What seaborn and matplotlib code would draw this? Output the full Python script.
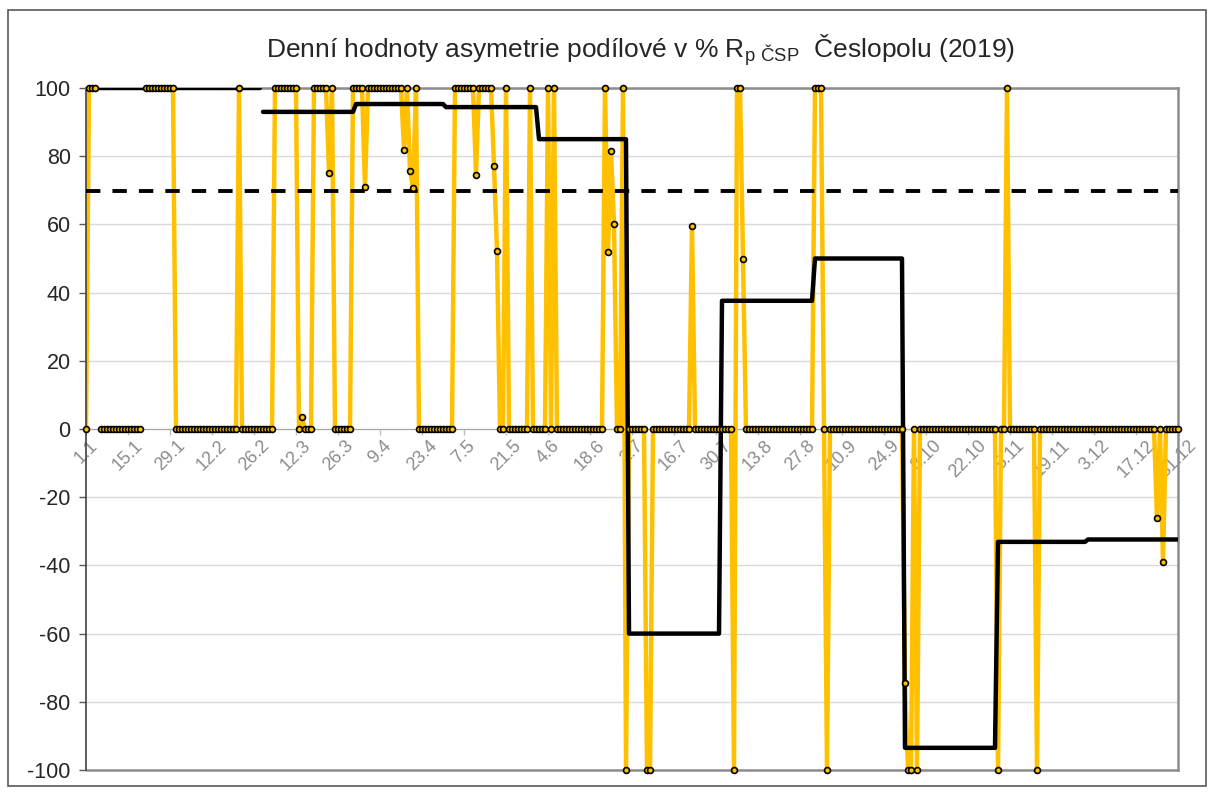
import numpy as np
import pandas as pd
import matplotlib.pyplot as plt
from matplotlib.patches import Rectangle
import seaborn as sns

nan = np.nan

# daily values (value, number of days)
yellow_runs = [
    (0, 1), (100, 3), (nan, 1), (0, 14), (nan, 1), (100, 10), (0, 21), (100, 1),
    (0, 11), (100, 8), (0, 1), (3.6, 1), (0, 3), (100, 5), (75.2, 1), (100, 1),
    (0, 6), (100, 4), (71.0, 1), (100, 12), (81.8, 1), (100, 1), (75.7, 1), (70.8, 1),
    (100, 1), (0, 12), (100, 7), (74.6, 1), (100, 5), (77.1, 1), (52.2, 1), (0, 2),
    (100, 1), (0, 7), (100, 1), (0, 5), (100, 1), (0, 1), (100, 1), (0, 16),
    (100, 1), (51.8, 1), (81.6, 1), (60.1, 1), (0, 2), (100, 1), (-100, 1), (0, 6),
    (-100, 2), (0, 13), (59.6, 1), (0, 13), (-100, 1), (100, 2), (50, 1), (0, 23),
    (100, 3), (0, 1), (-100, 1), (0, 25), (-74.4, 1), (-100, 2), (0, 1), (-100, 1),
    (0, 26), (-100, 1), (0, 2), (100, 1), (0, 9), (-100, 1), (0, 39), (-26.1, 1),
    (0, 1), (-39.0, 1), (0, 5),
]

# monthly values (black line), break between Feb and Mar
month_days = [31, 28, 31, 30, 31, 30, 31, 31, 30, 31, 30, 31]
month_values = [100, 100, 93.0, 95.3, 94.4, 85.0, -60.0, 37.6, 50.0, -93.5, -33.1, -32.4]
month_segment = [0, 0, 1, 1, 1, 1, 1, 1, 1, 1, 1, 1]

annual_value = 69.7

tick_days = list(range(1, 366, 14))
tick_labels = ['1.1', '15.1', '29.1', '12.2', '26.2', '12.3', '26.3', '9.4', '23.4',
               '7.5', '21.5', '4.6', '18.6', '2.7', '16.7', '30.7', '13.8', '27.8',
               '10.9', '24.9', '8.10', '22.10', '5.11', '19.11', '3.12', '17.12', '31.12']

# build daily frames
vals = np.concatenate([np.full(n, v, dtype=float) for v, n in yellow_runs])
days = np.arange(1, len(vals) + 1)
daily = pd.DataFrame({'day': days, 'value': vals})
daily['seg'] = daily['value'].isna().cumsum()
daily_ok = daily.dropna()

monthly = pd.DataFrame({
    'day': np.arange(1, 366),
    'value': np.repeat(month_values, month_days),
    'seg': np.repeat(month_segment, month_days),
})
annual = pd.DataFrame({'day': [1, 365], 'value': [annual_value, annual_value]})

sns.set_style('white')
plt.rcParams['font.family'] = ['Liberation Sans', 'DejaVu Sans']
plt.rcParams['mathtext.fontset'] = 'custom'
plt.rcParams['mathtext.rm'] = 'Liberation Sans'
plt.rcParams['axes.unicode_minus'] = False

fig = plt.figure(figsize=(12.14, 7.92), dpi=100)
ax = fig.add_axes([86 / 1214, 22 / 792, 1092 / 1214, 682 / 792])

gold = '#FFC000'
sns.lineplot(data=daily_ok, x='day', y='value', units='seg', estimator=None,
             color=gold, linewidth=3.2, ax=ax, zorder=2)
sns.lineplot(data=monthly, x='day', y='value', units='seg', estimator=None,
             color='black', linewidth=3.2, ax=ax, zorder=3)
sns.lineplot(data=annual, x='day', y='value', color='black', linewidth=2.8,
             ax=ax, zorder=3)
ax.lines[-1].set_dashes((3.7, 3.1))
sns.scatterplot(data=daily_ok, x='day', y='value', color=gold, edgecolor='black',
                linewidth=1.2, s=18, ax=ax, zorder=4, clip_on=False)

ax.set_xlim(1, 365)
ax.set_ylim(-100, 100)
ax.set_yticks(range(-100, 101, 20))
ax.set_xticks(tick_days)
ax.set_xticklabels(tick_labels)
ax.tick_params(axis='y', labelsize=15.5, length=5, width=1, color='#595959',
               direction='out', left=True, pad=6)
ax.tick_params(axis='x', length=4, width=1, color='#BFBFBF', direction='out',
               bottom=True, pad=2, labelsize=13, labelcolor='#8C8C8C',
               labelrotation=45)
for lab in ax.get_xticklabels():
    lab.set_ha('center')
ax.yaxis.grid(True, color='#D9D9D9', linewidth=1)
ax.set_axisbelow(True)
ax.set_xlabel('')
ax.set_ylabel('')

ax.spines['bottom'].set_position(('data', 0))
ax.spines['bottom'].set_color('#A6A6A6')
ax.spines['bottom'].set_zorder(1)
ax.spines['left'].set_color('#404040')
ax.spines['left'].set_linewidth(1.2)
for s in ['top', 'right']:
    ax.spines[s].set_color('#8C8C8C')
    ax.spines[s].set_linewidth(1.8)
ax.axhline(-100, color='#8C8C8C', linewidth=1.8, zorder=1, clip_on=False)

fig.text(0.528, 0.937, 'Denní hodnoty asymetrie podílové v % R$_{\\mathregular{p\\ ČSP}}$  Česlopolu (2019)',
         ha='center', va='center', fontsize=19)

fig.patches.append(Rectangle((8 / 1214, 6 / 792), 1198 / 1214, 776 / 792,
                             transform=fig.transFigure, fill=False,
                             edgecolor='#595959', linewidth=1.2))

plt.savefig('out.png', dpi=100)
